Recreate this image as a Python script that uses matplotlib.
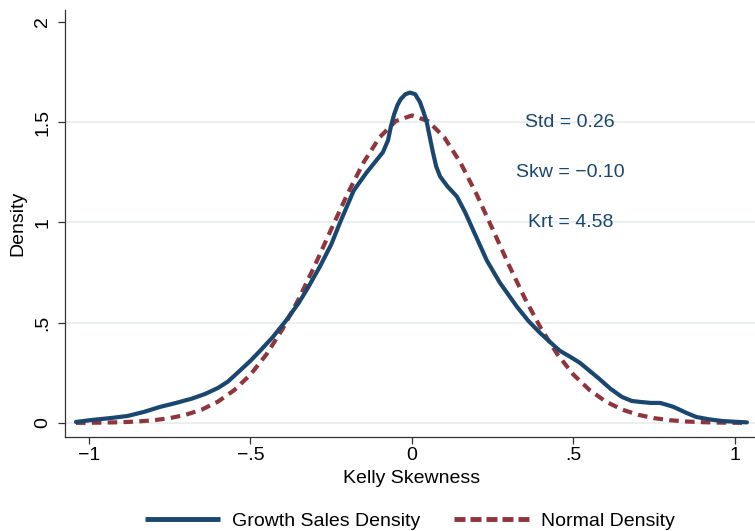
import matplotlib

matplotlib.use("Agg")

import matplotlib.pyplot as plt
from matplotlib.lines import Line2D

plt.rcParams["font.family"] = ["Liberation Sans", "DejaVu Sans"]

NAVY = "#1a476f"
MAROON = "#90353b"
GRID = "#e6eef0"
FS = 14

# kernel density of growth-sales Kelly skewness
kde_x = [-1.04, -0.99, -0.93, -0.88, -0.83, -0.78, -0.73, -0.68, -0.64, -0.60,
         -0.57, -0.54, -0.50, -0.47, -0.43, -0.39, -0.35, -0.32, -0.285, -0.25,
         -0.22, -0.18, -0.14, -0.11, -0.09, -0.074, -0.065, -0.055, -0.045, -0.035,
         -0.02, -0.006, 0.01, 0.025, 0.035, 0.046, 0.056, 0.065, 0.075, 0.087,
         0.11, 0.139, 0.165, 0.19, 0.232, 0.272, 0.325, 0.36, 0.396, 0.43,
         0.458, 0.49, 0.52, 0.55, 0.58, 0.615, 0.65, 0.68, 0.706, 0.74,
         0.768, 0.79, 0.81, 0.85, 0.88, 0.92, 0.96, 1.00, 1.037]
kde_y = [0.005, 0.015, 0.025, 0.035, 0.055, 0.08, 0.10, 0.122, 0.145, 0.175,
         0.206, 0.25, 0.31, 0.36, 0.43, 0.51, 0.60, 0.68, 0.78, 0.89,
         1.01, 1.16, 1.25, 1.31, 1.35, 1.41, 1.48, 1.54, 1.585, 1.615,
         1.64, 1.648, 1.64, 1.60, 1.555, 1.50, 1.42, 1.35, 1.28, 1.23,
         1.18, 1.13, 1.05, 0.96, 0.81, 0.70, 0.58, 0.51, 0.45, 0.40,
         0.36, 0.33, 0.30, 0.26, 0.22, 0.17, 0.13, 0.11, 0.105, 0.10,
         0.10, 0.09, 0.08, 0.05, 0.03, 0.018, 0.01, 0.006, 0.003]

# matching normal density
norm_x = [-1.04, -1.00, -0.95, -0.90, -0.85, -0.80, -0.75, -0.70, -0.65, -0.60,
          -0.55, -0.50, -0.45, -0.40, -0.35, -0.30, -0.25, -0.20, -0.15, -0.10,
          -0.05, 0.00, 0.05, 0.10, 0.15, 0.20, 0.25, 0.30, 0.35, 0.40,
          0.45, 0.50, 0.55, 0.60, 0.65, 0.70, 0.75, 0.80, 0.85, 0.90,
          0.95, 1.00, 1.04]
norm_y = [0.0005, 0.0009, 0.0019, 0.0038, 0.0073, 0.0135, 0.024, 0.041, 0.067, 0.107,
          0.164, 0.241, 0.343, 0.470, 0.620, 0.788, 0.966, 1.141, 1.299, 1.425,
          1.506, 1.534, 1.506, 1.425, 1.299, 1.141, 0.966, 0.788, 0.620, 0.470,
          0.343, 0.241, 0.164, 0.107, 0.067, 0.041, 0.024, 0.0135, 0.0073, 0.0038,
          0.0019, 0.0009, 0.0005]

stats_text = ["Std = 0.26", "Skw = \u22120.10", "Krt = 4.58"]
stats_y = [1.5, 1.25, 1.0]

x_ticks = [-1, -0.5, 0, 0.5, 1]
x_labels = ["\u22121", "\u2212.5", "0", ".5", "1"]
y_ticks = [0, 0.5, 1, 1.5, 2]
y_labels = ["0", ".5", "1", "1.5", "2"]

fig = plt.figure(figsize=(7.55, 5.31), dpi=100)
ax = fig.add_axes([65 / 755, 1 - 437 / 531, 690 / 755, 427 / 531])

for yv in [0, 0.5, 1, 1.5]:
    ax.axhline(yv, color=GRID, lw=1.2, zorder=0)

ax.plot(norm_x, norm_y, color=MAROON, lw=3.0, dashes=(2.3, 1.5),
        solid_capstyle="butt", zorder=2)
ax.plot(kde_x, kde_y, color=NAVY, lw=3.0, solid_capstyle="round",
        solid_joinstyle="round", zorder=3)

for txt, yv in zip(stats_text, stats_y):
    ax.text(0.49, yv, txt, color=NAVY, fontsize=FS, ha="center", va="center")

ax.set_xlim(-1.074, 1.062)
ax.set_ylim(-0.07, 2.06)
ax.set_xticks(x_ticks, x_labels)
ax.set_yticks(y_ticks, y_labels)
for lab in ax.get_yticklabels():
    lab.set_rotation(90)
    lab.set_va("center")
ax.tick_params(axis="both", labelsize=FS, length=5, width=0.9, color="#333333",
               labelcolor="black")
ax.tick_params(axis="x", pad=2.5)
ax.tick_params(axis="y", pad=5)

for side in ["top", "right"]:
    ax.spines[side].set_visible(False)
for side in ["left", "bottom"]:
    ax.spines[side].set_linewidth(0.9)
    ax.spines[side].set_color("#333333")

ax.set_xlabel("Kelly Skewness", fontsize=FS)
ax.set_ylabel("Density", fontsize=FS)
ax.xaxis.set_label_coords((412 - 65) / 690, -0.077)
ax.yaxis.set_label_coords(-0.0565, 0.5)

handles = [
    Line2D([], [], color=NAVY, lw=3.5, solid_capstyle="butt"),
    Line2D([], [], color=MAROON, lw=3.5, dashes=(2.26, 1.03)),
]
fig.legend(handles, ["Growth Sales Density", "Normal Density"], loc="center",
           bbox_to_anchor=(410 / 755, 1 - 521 / 531), ncol=2, frameon=False,
           fontsize=FS, handlelength=3.86, handletextpad=0.62, columnspacing=1.75)

fig.savefig("out.png", dpi=100)
